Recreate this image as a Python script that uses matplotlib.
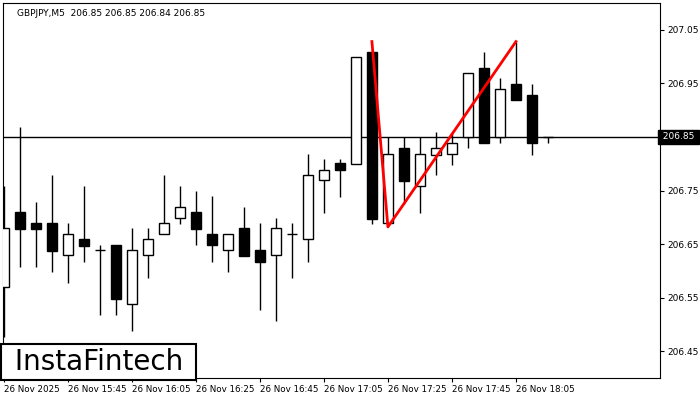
import matplotlib
matplotlib.use("Agg")
import matplotlib.pyplot as plt
from matplotlib.patches import Rectangle

opens = [206.570, 206.710, 206.689, 206.689, 206.629, 206.659, 206.639, 206.648, 206.538, 206.629,
         206.669, 206.699, 206.710, 206.669, 206.639, 206.680, 206.639, 206.629, 206.669, 206.659,
         206.770, 206.801, 206.800, 207.009, 206.689, 206.829, 206.758, 206.816, 206.818, 206.850,
         206.979, 206.850, 206.949, 206.928, 206.850]
highs = [206.758, 206.869, 206.729, 206.779, 206.689, 206.758, 206.648, 206.648, 206.680, 206.680,
         206.779, 206.758, 206.749, 206.740, 206.669, 206.719, 206.689, 206.699, 206.689, 206.818,
         206.809, 206.809, 206.999, 207.009, 206.850, 206.850, 206.850, 206.859, 206.859, 206.970,
         207.009, 206.960, 207.028, 206.949, 206.850]
lows = [206.476, 206.607, 206.607, 206.598, 206.577, 206.616, 206.517, 206.517, 206.487, 206.586,
        206.669, 206.687, 206.648, 206.616, 206.598, 206.628, 206.527, 206.506, 206.586, 206.616,
        206.708, 206.738, 206.800, 206.687, 206.684, 206.725, 206.708, 206.779, 206.798, 206.829,
        206.839, 206.839, 206.919, 206.816, 206.839]
closes = [206.680, 206.678, 206.678, 206.637, 206.669, 206.646, 206.639, 206.547, 206.639, 206.659,
          206.689, 206.719, 206.678, 206.648, 206.669, 206.628, 206.616, 206.680, 206.669, 206.779,
          206.788, 206.788, 206.999, 206.697, 206.818, 206.768, 206.818, 206.829, 206.839, 206.970,
          206.839, 206.940, 206.919, 206.839, 206.850]

pattern_x = [23, 24, 32]
pattern_y = [207.028, 206.682, 207.028]

price_ticks = [206.45, 206.55, 206.65, 206.75, 206.85, 206.95, 207.05]
last_price = 206.85
time_ticks = [0, 4, 8, 12, 16, 20, 24, 28, 32]
time_labels = ["26 Nov 2025", "26 Nov 15:45", "26 Nov 16:05", "26 Nov 16:25", "26 Nov 16:45",
               "26 Nov 17:05", "26 Nov 17:25", "26 Nov 17:45", "26 Nov 18:05"]

fig = plt.figure(figsize=(7, 4), dpi=100)
ax = fig.add_axes([3 / 700, 22 / 400, 657 / 700, 375 / 400])
ax.set_xlim(-0.05, 41)
ax.set_ylim(206.40, 207.10)

w = 0.62
for i, (o, h, l, c) in enumerate(zip(opens, highs, lows, closes)):
    ax.vlines(i, l, h, color="black", lw=1, zorder=2)
    lo, hi = min(o, c), max(o, c)
    if hi - lo < 0.004:
        ax.hlines(o, i - w / 2, i + w / 2, color="black", lw=1, zorder=3)
    else:
        face = "white" if c > o else "black"
        ax.add_patch(Rectangle((i - w / 2, lo), w, hi - lo, facecolor=face,
                               edgecolor="black", lw=1, zorder=3))

ax.axhline(last_price, color="black", lw=1, zorder=1)
ax.plot(pattern_x, pattern_y, color="red", lw=2, zorder=4)

ax.yaxis.tick_right()
ax.set_yticks(price_ticks)
ax.set_yticklabels(["" if p == last_price else f"{p:.2f}" for p in price_ticks], fontsize=6.5)
ax.set_xticks(time_ticks)
ax.set_xticklabels(time_labels, fontsize=6.3, ha="left")
ax.tick_params(length=3, pad=2)
ax.text(1.0, last_price, f" {last_price:.2f} ", transform=ax.get_yaxis_transform(),
        fontsize=6.5, color="white", va="center", ha="left",
        bbox=dict(facecolor="black", edgecolor="black", pad=1.5), zorder=5)

ax.text(0.022, 0.985, "GBPJPY,M5  206.85 206.85 206.84 206.85", transform=ax.transAxes,
        fontsize=6.5, va="top")
ax.text(0.004, 0.006, " InstaFintech ", transform=ax.transAxes, fontsize=20,
        va="bottom", ha="left", zorder=6,
        bbox=dict(facecolor="white", edgecolor="black", lw=1.5, pad=3))

fig.savefig("out.png", dpi=100)
